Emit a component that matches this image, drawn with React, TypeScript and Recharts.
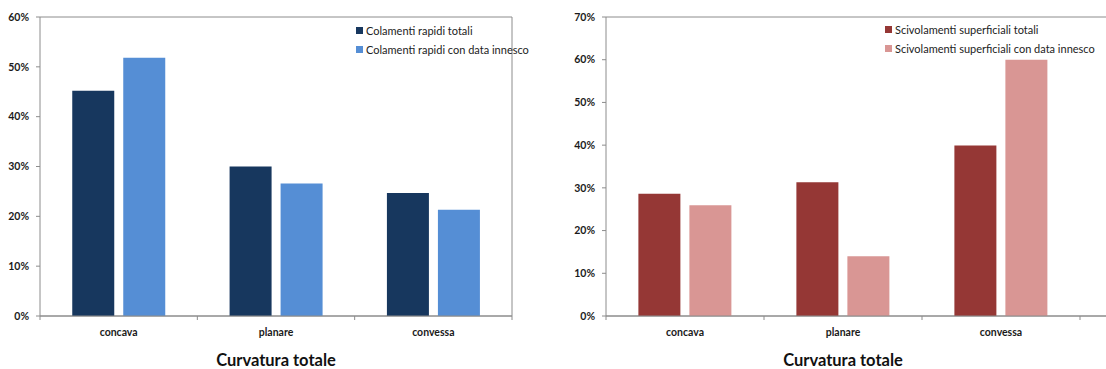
import React from 'react';
import { BarChart, Bar, XAxis, YAxis, CartesianGrid } from 'recharts';

const categories = ['concava', 'planare', 'convessa'];

const colamentiTotali = [45.2, 30.0, 24.7];
const colamentiInnesco = [51.8, 26.6, 21.3];
const colamentiNames = ['Colamenti rapidi totali', 'Colamenti rapidi con data innesco'];
const colamentiTicks = [0, 10, 20, 30, 40, 50, 60];

const scivolamentiTotali = [28.6, 31.3, 39.9];
const scivolamentiInnesco = [25.9, 14.0, 60.0];
const scivolamentiNames = ['Scivolamenti superficiali totali', 'Scivolamenti superficiali con data innesco'];
const scivolamentiTicks = [0, 10, 20, 30, 40, 50, 60, 70];

const axisTitle = 'Curvatura totale';

const FONT = 'Lato, "Liberation Sans", sans-serif';
const GRID = '#8c8c8c';
const H = 369;
const TOP = 17;
const XAXIS_H = 53;

type PanelProps = {
  left: number;
  width: number;
  yWidth: number;
  rightSpace: number;
  padRight: number;
  ticks: number[];
  a: number[];
  b: number[];
  names: string[];
  colors: string[];
  legendX: number;
  legendY: number;
  rightBorder?: boolean;
};

const Panel = (p: PanelProps) => {
  const data = categories.map((c, i) => ({ name: c, a: p.a[i], b: p.b[i] }));
  const plotW = p.width - p.yWidth - p.rightSpace - p.padRight;
  const band = plotW / categories.length;

  const renderTick = (props: any) => {
    const { x, y, payload, index } = props;
    return (
      <g>
        <line x1={x - band / 2} x2={x - band / 2} y1={y} y2={y + 4} stroke={GRID} />
        {index === categories.length - 1 && (
          <line x1={x + band / 2} x2={x + band / 2} y1={y} y2={y + 4} stroke={GRID} />
        )}
        <text x={x} y={y + 20} textAnchor="middle" fontSize={10.5} fontWeight="bold" fill="#1a1a1a" fontFamily={FONT}>
          {payload.value}
        </text>
      </g>
    );
  };

  return (
    <div style={{ position: 'absolute', left: p.left, top: 0, width: p.width, height: H }}>
      <BarChart
        width={p.width}
        height={H}
        data={data}
        margin={{ top: TOP, right: p.rightBorder ? 0 : p.rightSpace, bottom: 0, left: 0 }}
        barCategoryGap="20.5%"
        barGap={9}
      >
        <CartesianGrid vertical={false} stroke={GRID} />
        <XAxis
          dataKey="name"
          height={XAXIS_H}
          padding={{ left: 0, right: p.padRight }}
          axisLine={{ stroke: GRID }}
          tickLine={false}
          tickSize={0}
          tickMargin={0}
          interval={0}
          tick={renderTick}
        />
        <YAxis
          yAxisId="l"
          width={p.yWidth}
          domain={[0, p.ticks[p.ticks.length - 1]]}
          ticks={p.ticks}
          tickFormatter={(v: number) => `${v}%`}
          axisLine={{ stroke: GRID }}
          tickLine={{ stroke: GRID }}
          tickSize={4}
          tickMargin={7}
          tick={{ fontSize: 10.5, fontWeight: 'bold', fill: '#1a1a1a', fontFamily: FONT }}
        />
        {p.rightBorder && (
          <YAxis
            yAxisId="r"
            orientation="right"
            width={p.rightSpace}
            tick={false}
            tickLine={false}
            axisLine={{ stroke: GRID }}
          />
        )}
        <Bar yAxisId="l" dataKey="a" name={p.names[0]} fill={p.colors[0]} isAnimationActive={false} />
        <Bar yAxisId="l" dataKey="b" name={p.names[1]} fill={p.colors[1]} isAnimationActive={false} />
      </BarChart>
      <div
        style={{
          position: 'absolute',
          left: p.yWidth,
          width: plotW,
          top: 349,
          textAlign: 'center',
          fontFamily: FONT,
          fontWeight: 'bold',
          fontSize: 16.5,
          color: '#111',
          lineHeight: '22px',
        }}
      >
        {axisTitle}
      </div>
      <div style={{ position: 'absolute', left: p.legendX, top: p.legendY, fontFamily: FONT, fontSize: 11, color: '#222' }}>
        {p.names.map((n, i) => (
          <div key={n} style={{ display: 'flex', alignItems: 'center', height: 19, whiteSpace: 'nowrap' }}>
            <span style={{ display: 'inline-block', width: 7, height: 7, background: p.colors[i], marginRight: 3 }} />
            {n}
          </div>
        ))}
      </div>
    </div>
  );
};

export default function App() {
  return (
    <div style={{ position: 'absolute', left: 0, top: 0, width: 1106, height: H, background: '#fff', overflow: 'hidden' }}>
      <Panel
        left={0}
        width={560}
        yWidth={40}
        rightSpace={48}
        padRight={0}
        ticks={colamentiTicks}
        a={colamentiTotali}
        b={colamentiInnesco}
        names={colamentiNames}
        colors={['#17375e', '#558ed5']}
        legendX={356}
        legendY={21}
        rightBorder
      />
      <Panel
        left={550}
        width={556}
        yWidth={56}
        rightSpace={0}
        padRight={26}
        ticks={scivolamentiTicks}
        a={scivolamentiTotali}
        b={scivolamentiInnesco}
        names={scivolamentiNames}
        colors={['#953735', '#d99694']}
        legendX={335}
        legendY={20}
      />
    </div>
  );
}
